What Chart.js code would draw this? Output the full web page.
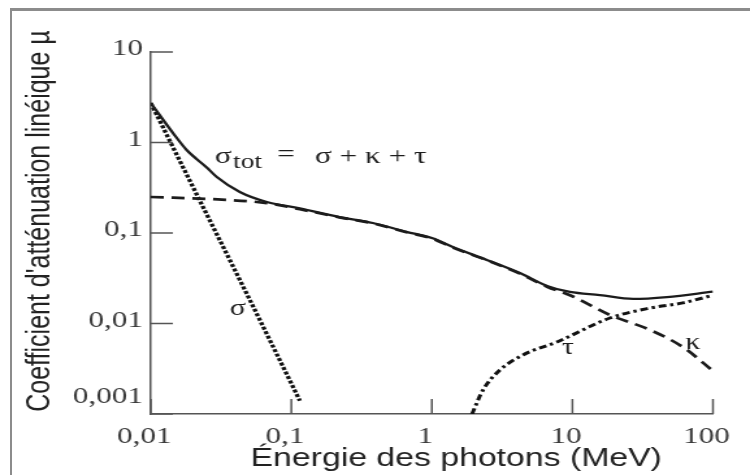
<!DOCTYPE html>
<html>
<head>
<meta charset="utf-8">
<title>Coefficient d'atténuation</title>
<script src="https://cdn.jsdelivr.net/npm/chart.js@4.4.1/dist/chart.umd.min.js"></script>
<style>
    html, body { margin: 0; padding: 0; background: #ffffff; overflow: hidden; }
    /* the source picture is stretched sideways, so the whole canvas is too */
    #wrap { position: absolute; left: 0; top: 0; width: 577px; height: 475px; transform: scaleX(1.2998); transform-origin: 0 0; }
    #frame { position: absolute; left: 10px; top: 8px; width: 760px; height: 480px; border-left: 2px solid #8c8c8c; border-top: 3px solid #8c8c8c; }
</style>
</head>
<body>
<div id="wrap"><canvas id="attenuationChart" width="577" height="475"></canvas></div>
<div id="frame"></div>
<script>
// Axis ticks
const xTickValues = [0.01, 0.1, 1, 10, 100];
const xTickLabels = ['0,01', '0,1', '1', '10', '100'];
const yTickValues = [0.001, 0.01, 0.1, 1, 10];
const yTickLabels = ['0,001', '0,01', '0,1', '1', '10'];

// Total attenuation (solid)
const energyTot = [0.01, 0.0144, 0.018, 0.025, 0.0295, 0.043, 0.067, 0.115, 0.22, 0.38, 0.66, 1.0, 1.41, 2.46, 4.23, 6.6, 9.6, 15.7, 27, 47, 100];
const muTot = [2.73, 1.27, 0.826, 0.53, 0.416, 0.284, 0.22, 0.187, 0.15, 0.129, 0.103, 0.088, 0.070, 0.0504, 0.0361, 0.026, 0.0223, 0.0206, 0.0187, 0.0196, 0.0225];

// Compton, kappa (dashed)
const energyCompton = [0.01, 0.03, 0.067, 0.115, 0.22, 0.38, 0.66, 1.0, 1.41, 2.46, 4.23, 6.6, 10, 18.5, 35.6, 61, 100];
const muCompton = [0.25, 0.235, 0.214, 0.183, 0.149, 0.128, 0.102, 0.087, 0.069, 0.05, 0.0355, 0.0255, 0.02, 0.0124, 0.0085, 0.0055, 0.003];

// Photoelectric, sigma (dotted)
const energyPhoto = [0.01, 0.02, 0.05, 0.115];
const muPhoto = [2.73, 0.32, 0.019, 0.0014];

// Pair production, tau (dash-dot)
const energyPair = [1.93, 2.31, 3.05, 4.45, 7.76, 18.5, 35.6, 61, 100];
const muPair = [0.001, 0.00184, 0.00306, 0.0045, 0.00625, 0.0115, 0.0148, 0.0169, 0.0205];

function toPoints(xs, ys) {
    return xs.map((x, i) => ({ x: x, y: ys[i] }));
}

const INK = '#1c1c1c';
const AXIS = '#555555';

// tick marks point into the plot, so they are drawn here
const insideTicks = {
    id: 'insideTicks',
    beforeDatasetsDraw(chart) {
        const { ctx, chartArea, scales: { x, y } } = chart;
        ctx.save();
        ctx.strokeStyle = AXIS;
        ctx.lineWidth = 1.5;
        ctx.beginPath();
        xTickValues.forEach(v => {
            const px = x.getPixelForValue(v);
            ctx.moveTo(px, chartArea.bottom);
            ctx.lineTo(px, chartArea.bottom - 15);
        });
        yTickValues.forEach(v => {
            const py = y.getPixelForValue(v);
            ctx.moveTo(chartArea.left, py);
            ctx.lineTo(chartArea.left + 17, py);
        });
        ctx.stroke();
        ctx.restore();
    }
};

// curve names, formula and axis titles
const chartTexts = {
    id: 'chartTexts',
    afterDraw(chart) {
        const { ctx, scales: { x, y } } = chart;
        ctx.save();
        ctx.fillStyle = INK;

        // formula
        const fx = x.getPixelForValue(0.0286);
        const fy = y.getPixelForValue(0.593);
        ctx.textAlign = 'left';
        ctx.textBaseline = 'alphabetic';
        ctx.font = '24px "Liberation Serif"';
        ctx.fillText('σ', fx, fy);
        ctx.font = '21px "Liberation Serif"';
        ctx.fillText('tot', fx + 14, fy + 5);
        ctx.font = '24px "Liberation Serif"';
        ctx.fillText('=', fx + 48, fy - 2);
        ctx.fillText('σ + κ + τ', fx + 77, fy);

        // curve labels
        ctx.textAlign = 'center';
        ctx.textBaseline = 'middle';
        ctx.font = '23px "Liberation Serif"';
        ctx.fillText('σ', x.getPixelForValue(0.0416), y.getPixelForValue(0.0144));
        ctx.fillText('τ', x.getPixelForValue(9.3), y.getPixelForValue(0.0054));
        ctx.fillText('κ', x.getPixelForValue(72), y.getPixelForValue(0.0061));

        // axis titles
        ctx.fillStyle = '#222222';
        ctx.font = '26px "Liberation Sans"';
        ctx.fillText('Énergie des photons (MeV)', 351, 459);
        ctx.translate(31, 221);
        ctx.rotate(-Math.PI / 2);
        ctx.font = '25px "Liberation Sans"';
        ctx.fillText("Coefficient d'atténuation linéique µ", 0, 0);
        ctx.restore();
    }
};

const ctxAtt = document.getElementById('attenuationChart').getContext('2d');
const attenuationChart = new Chart(ctxAtt, {
    type: 'line',
    data: {
        datasets: [
            {
                label: 'σtot',
                data: toPoints(energyTot, muTot),
                borderColor: INK,
                borderWidth: 2.3,
                cubicInterpolationMode: 'monotone'
            },
            {
                label: 'κ',
                data: toPoints(energyCompton, muCompton),
                borderColor: INK,
                borderWidth: 2.7,
                borderDash: [10, 6],
                cubicInterpolationMode: 'monotone'
            },
            {
                label: 'σ',
                data: toPoints(energyPhoto, muPhoto),
                borderColor: '#111111',
                borderWidth: 3.3,
                borderDash: [3, 1.8],
                cubicInterpolationMode: 'monotone'
            },
            {
                label: 'τ',
                data: toPoints(energyPair, muPair),
                borderColor: '#111111',
                borderWidth: 3,
                borderDash: [6, 3, 2.5, 3],
                cubicInterpolationMode: 'monotone'
            }
        ]
    },
    options: {
        responsive: false,
        animation: false,
        elements: { point: { radius: 0 } },
        layout: { padding: { top: 52, right: 28.5, left: 0, bottom: 0 } },
        scales: {
            x: {
                type: 'logarithmic',
                min: 0.01,
                max: 100,
                afterBuildTicks: scale => { scale.ticks = xTickValues.map(v => ({ value: v })); },
                afterFit: scale => { scale.height = 61; },
                ticks: {
                    autoSkip: false,
                    maxRotation: 0,
                    padding: 8,
                    labelOffset: -5,
                    color: '#3a3a3a',
                    font: { family: '"Liberation Serif"', size: 24 },
                    callback: (value, index) => xTickLabels[index]
                },
                grid: { drawOnChartArea: false, drawTicks: false },
                border: { color: AXIS, width: 1.5 }
            },
            y: {
                type: 'logarithmic',
                min: 0.001,
                max: 10,
                afterBuildTicks: scale => { scale.ticks = yTickValues.map(v => ({ value: v })); },
                afterFit: scale => { scale.width = 116; },
                ticks: {
                    autoSkip: false,
                    padding: 6,
                    labelOffset: -3,
                    color: '#3a3a3a',
                    font: { family: '"Liberation Serif"', size: 24 },
                    // the lowest label sits above the x axis in the source
                    callback: (value, index) => index === 0 ? [yTickLabels[index], ''] : yTickLabels[index]
                },
                grid: { drawOnChartArea: false, drawTicks: false },
                border: { color: AXIS, width: 1.5 }
            }
        },
        plugins: {
            legend: { display: false },
            tooltip: { enabled: false }
        }
    },
    plugins: [insideTicks, chartTexts]
});
</script>
</body>
</html>
